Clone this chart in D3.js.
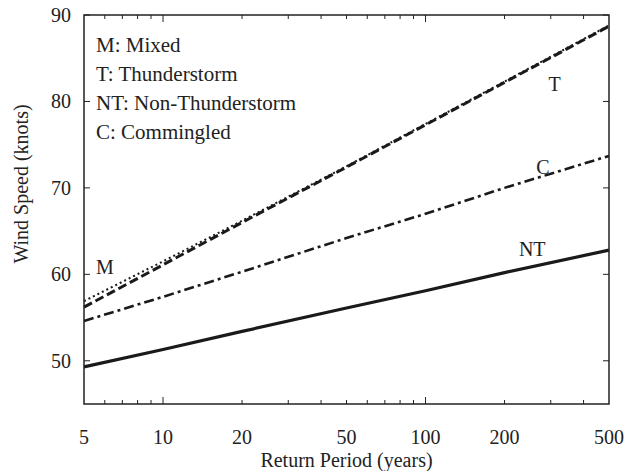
<!DOCTYPE html>
<html>
<head>
<meta charset="utf-8">
<script src="https://cdn.jsdelivr.net/npm/d3@7"></script>
<style>
  body { margin: 0; background: #fff; }
</style>
</head>
<body>
<div id="main"></div>
<script>
// return periods (years)
const periods = [5, 10, 20, 50, 100, 200, 500];
// wind speed (knots) per population
const mixed = [56.9, 61.5, 66.2, 72.5, 77.4, 82.3, 88.8];
const thunder = [56.2, 61.1, 66.0, 72.4, 77.3, 82.2, 88.7];
const nonThunder = [49.3, 51.3, 53.4, 56.1, 58.1, 60.2, 62.8];
const commingled = [54.6, 57.4, 60.3, 64.2, 67.0, 70.0, 73.7];

const xLabels = [5, 10, 20, 50, 100, 200, 500];
const xMinor = [6, 7, 8, 9, 20, 30, 40, 50, 60, 70, 80, 90, 200, 300, 400];
const xMajorLong = [10, 100];
const yTicks = [50, 60, 70, 80, 90];
const legendLines = ["M: Mixed", "T: Thunderstorm", "NT: Non-Thunderstorm", "C: Commingled"];

const ctx = {
    w: 644, h: 471,
    left: 84, right: 609, top: 15, bottom: 404,
    font: "Liberation Serif",
};

const x = d3.scaleLog().domain([5, 500]).range([ctx.left, ctx.right]);
const y = d3.scaleLinear().domain([45, 90]).range([ctx.bottom, ctx.top]);

const svg = d3.select("#main").append("svg")
    .attr("width", ctx.w)
    .attr("height", ctx.h)
    .attr("font-family", ctx.font);

// series
const series = [
    {name: "T", vals: thunder, width: 3, dash: "9,4"},
    {name: "M", vals: mixed, width: 2, dash: "2,3"},
    {name: "C", vals: commingled, width: 2.6, dash: "10,4,3,4"},
    {name: "NT", vals: nonThunder, width: 3.2, dash: null},
];

const line = d3.line()
    .x(d => x(d[0]))
    .y(d => y(d[1]));

svg.append("g").attr("id", "lines")
    .selectAll("path")
    .data(series)
    .enter()
    .append("path")
    .attr("d", d => line(periods.map((p, i) => [p, d.vals[i]])))
    .attr("fill", "none")
    .attr("stroke", "#1a1a1a")
    .attr("stroke-width", d => d.width)
    .attr("stroke-dasharray", d => d.dash);

// frame
svg.append("rect")
    .attr("x", ctx.left)
    .attr("y", ctx.top)
    .attr("width", ctx.right - ctx.left)
    .attr("height", ctx.bottom - ctx.top)
    .attr("fill", "none")
    .attr("stroke", "#222")
    .attr("stroke-width", 1.5);

// ticks (inward, mirrored)
const ticks = svg.append("g").attr("stroke", "#222").attr("stroke-width", 1);
const xTickData = xMinor.map(v => ({v: v, len: 4}))
    .concat(xMajorLong.map(v => ({v: v, len: 7})));
ticks.selectAll("line.xb").data(xTickData).enter().append("line")
    .attr("x1", d => x(d.v)).attr("x2", d => x(d.v))
    .attr("y1", ctx.bottom).attr("y2", d => ctx.bottom - d.len);
ticks.selectAll("line.xt").data(xTickData).enter().append("line")
    .attr("x1", d => x(d.v)).attr("x2", d => x(d.v))
    .attr("y1", ctx.top).attr("y2", d => ctx.top + d.len);
ticks.selectAll("line.yl").data(yTicks).enter().append("line")
    .attr("x1", ctx.left).attr("x2", ctx.left + 6)
    .attr("y1", d => y(d)).attr("y2", d => y(d));
ticks.selectAll("line.yr").data(yTicks).enter().append("line")
    .attr("x1", ctx.right).attr("x2", ctx.right - 6)
    .attr("y1", d => y(d)).attr("y2", d => y(d));

// tick labels
svg.selectAll("text.xl").data(xLabels).enter().append("text")
    .attr("x", d => x(d))
    .attr("y", 437)
    .attr("dy", "0.35em")
    .attr("text-anchor", "middle")
    .attr("fill", "#222")
    .style("font-size", "20px")
    .text(d => d);
svg.selectAll("text.yl").data(yTicks).enter().append("text")
    .attr("x", 71)
    .attr("y", d => y(d))
    .attr("dy", "0.35em")
    .attr("text-anchor", "end")
    .attr("fill", "#222")
    .style("font-size", "20px")
    .text(d => d);

// axis titles
svg.append("text")
    .attr("x", (ctx.left + ctx.right) / 2)
    .attr("y", 467)
    .attr("text-anchor", "middle")
    .attr("fill", "#222")
    .style("font-size", "20px")
    .text("Return Period (years)");
svg.append("text")
    .attr("transform", "translate(28,184) rotate(-90)")
    .attr("text-anchor", "middle")
    .attr("fill", "#222")
    .style("font-size", "20px")
    .text("Wind Speed (knots)");

// legend text
svg.selectAll("text.leg").data(legendLines).enter().append("text")
    .attr("x", 96)
    .attr("y", (d, i) => 52 + i * 29)
    .attr("fill", "#222")
    .style("font-size", "21px")
    .text(d => d);

// curve labels
const curveLabels = [
    {t: "M", v: 6.0, s: 60.0},
    {t: "T", v: 310, s: 81.2},
    {t: "C", v: 280, s: 71.6},
    {t: "NT", v: 255, s: 62.1},
];
svg.selectAll("text.cl").data(curveLabels).enter().append("text")
    .attr("x", d => x(d.v))
    .attr("y", d => y(d.s))
    .attr("text-anchor", "middle")
    .attr("fill", "#222")
    .style("font-size", "20px")
    .text(d => d.t);
</script>
</body>
</html>
